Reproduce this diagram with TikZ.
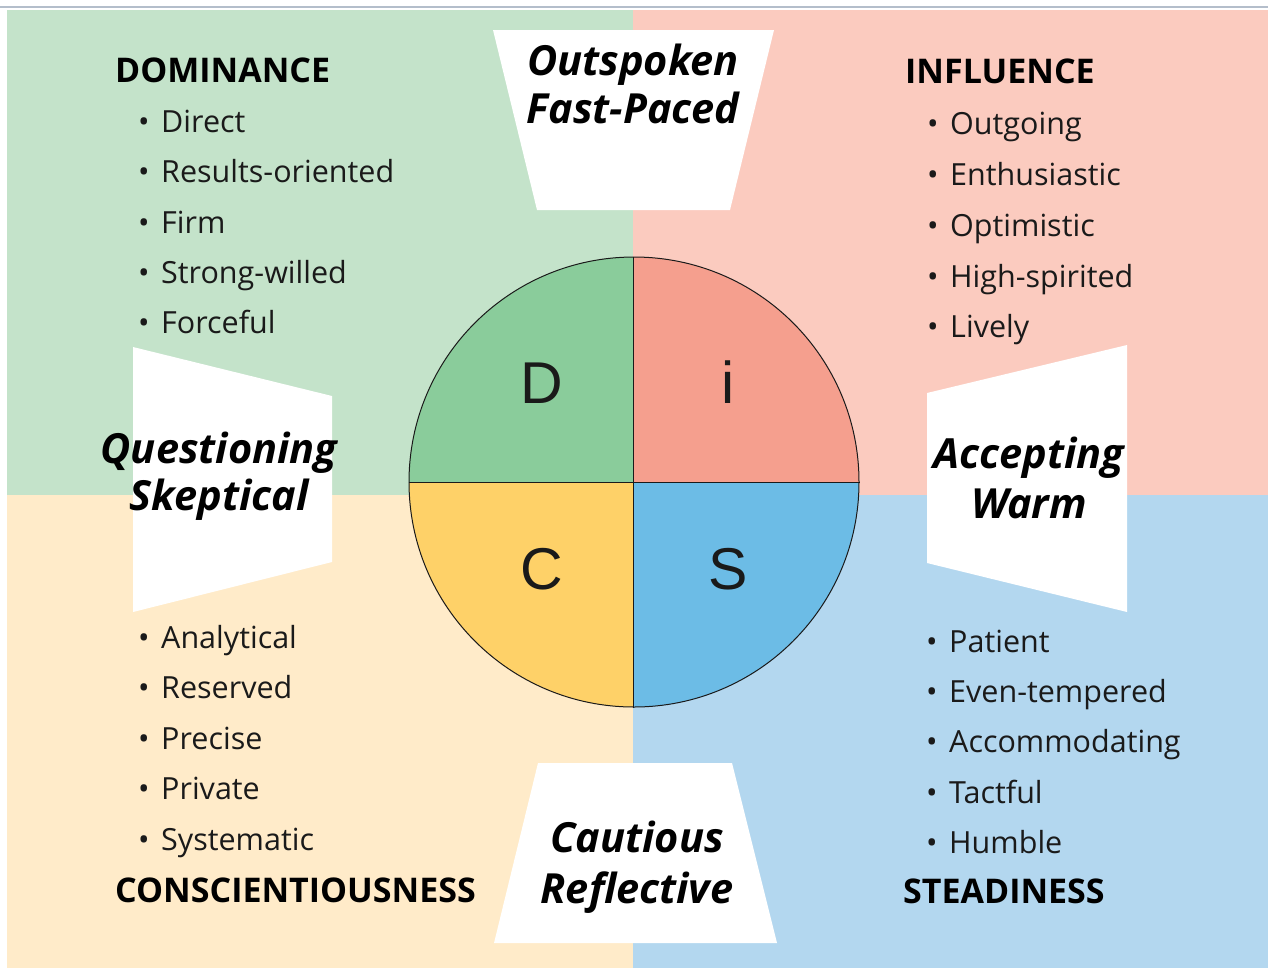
\documentclass[tikz,border=0pt]{standalone}
\usepackage{fontspec}
\setmainfont{Open Sans}
\newfontfamily\lettersfont{Liberation Sans}
\definecolor{bgD}{HTML}{C4E3CA}
\definecolor{bgI}{HTML}{FBCBBF}
\definecolor{bgC}{HTML}{FFEBC9}
\definecolor{bgS}{HTML}{B3D7EF}
\definecolor{qD}{HTML}{8ACC9B}
\definecolor{qI}{HTML}{F59F8E}
\definecolor{qC}{HTML}{FED168}
\definecolor{qS}{HTML}{6CBCE6}
\definecolor{rule}{HTML}{B4BECB}
\definecolor{ink}{HTML}{1A1A1A}
\tikzset{
  item/.style={anchor=base west, inner sep=0pt, text=ink, font=\fontsize{30.5}{37}\selectfont},
  heading/.style={anchor=base west, inner sep=0pt, text=black, font=\fontsize{34}{40}\selectfont\bfseries},
  trait/.style={anchor=base, inner sep=0pt, text=black, font=\fontsize{41.5}{47}\selectfont\bfseries\itshape},
  letter/.style={anchor=base, inner sep=0pt, text=ink, font=\fontsize{59}{65}\selectfont\lettersfont},
  panel/.style={fill=white, draw=none}
}
\newcommand{\bul}[1]{\makebox[23pt][l]{•}#1}
\begin{document}
\begin{tikzpicture}[x=1pt,y=-1pt]
\useasboundingbox (0,0) rectangle (1268,970);
% background quadrants
\fill[white] (0,0) rectangle (1268,970);
\draw[rule, line width=1.2pt] (0,7) -- (1268,7);
\fill[bgD] (7,10) rectangle (633,495);
\fill[bgI] (633,10) rectangle (1268,495);
\fill[bgC] (7,495) rectangle (633,968);
\fill[bgS] (633,495) rectangle (1268,968);

% white trapezoid panels
\fill[panel] (493,30) -- (774,30) -- (730,210) -- (537,210) -- cycle;
\fill[panel] (538,763) -- (732,763) -- (777,943) -- (494,943) -- cycle;
\fill[panel] (133,347) -- (332,396) -- (332,562) -- (133,612) -- cycle;
\fill[panel] (927,393) -- (1127,345) -- (1127,612) -- (927,563) -- cycle;

% DiSC disc
\begin{scope}
  \clip (634,482) circle[radius=225];
  \fill[qD] (400,250) rectangle (633,482);
  \fill[qI] (633,250) rectangle (870,482);
  \fill[qC] (400,482) rectangle (633,715);
  \fill[qS] (633,482) rectangle (870,715);
\end{scope}
\node[circle, draw=ink, line width=1pt, minimum size=450pt, inner sep=0pt] (disc) at (634,482) {};
\draw[ink, line width=1pt] (disc.north -| 633,0) -- (disc.south -| 633,0);
\draw[ink, line width=1pt] (disc.west) -- (disc.east);
\node[letter] (lD) at (542,403) {D};
\node[letter] (lI) at (728,403) {i};
\node[letter] (lC) at (542,589) {C};
\node[letter] (lS) at (728,589) {S};

% trait labels
\node[trait] (t1) at (633,75) {Outspoken};
\node[trait] (t2) at (633,123) {Fast-Paced};
\node[trait] (t3) at (219,463) {Questioning};
\node[trait] (t4) at (219,510) {Skeptical};
\node[trait] (t5) at (1029,468) {Accepting};
\node[trait] (t6) at (1029,518) {Warm};
\node[trait] (t7) at (637,852) {Cautious};
\node[trait] (t8) at (637,903) {Reflective};

% Dominance
\node[heading] (hD) at (115,82) {DOMINANCE};
\node[item] (d1) at (138,132) {\bul{Direct}};
\node[item] (d2) at (138,182) {\bul{Results-oriented}};
\node[item] (d3) at (138,233) {\bul{Firm}};
\node[item] (d4) at (138,283) {\bul{Strong-willed}};
\node[item] (d5) at (138,333) {\bul{Forceful}};

% Influence
\node[heading] (hI) at (905,83) {INFLUENCE};
\node[item] (i1) at (927,134) {\bul{Outgoing}};
\node[item] (i2) at (927,185) {\bul{Enthusiastic}};
\node[item] (i3) at (927,236) {\bul{Optimistic}};
\node[item] (i4) at (927,287) {\bul{High-spirited}};
\node[item] (i5) at (927,337) {\bul{Lively}};

% Conscientiousness
\node[item] (c1) at (138,648) {\bul{Analytical}};
\node[item] (c2) at (138,698) {\bul{Reserved}};
\node[item] (c3) at (138,749) {\bul{Precise}};
\node[item] (c4) at (138,799) {\bul{Private}};
\node[item] (c5) at (138,850) {\bul{Systematic}};
\node[heading] (hC) at (115,902) {CONSCIENTIOUSNESS};

% Steadiness
\node[item] (s1) at (926,652) {\bul{Patient}};
\node[item] (s2) at (926,702) {\bul{Even-tempered}};
\node[item] (s3) at (926,752) {\bul{Accommodating}};
\node[item] (s4) at (926,803) {\bul{Tactful}};
\node[item] (s5) at (926,853) {\bul{Humble}};
\node[heading] (hS) at (903,903) {STEADINESS};
\end{tikzpicture}
\end{document}
